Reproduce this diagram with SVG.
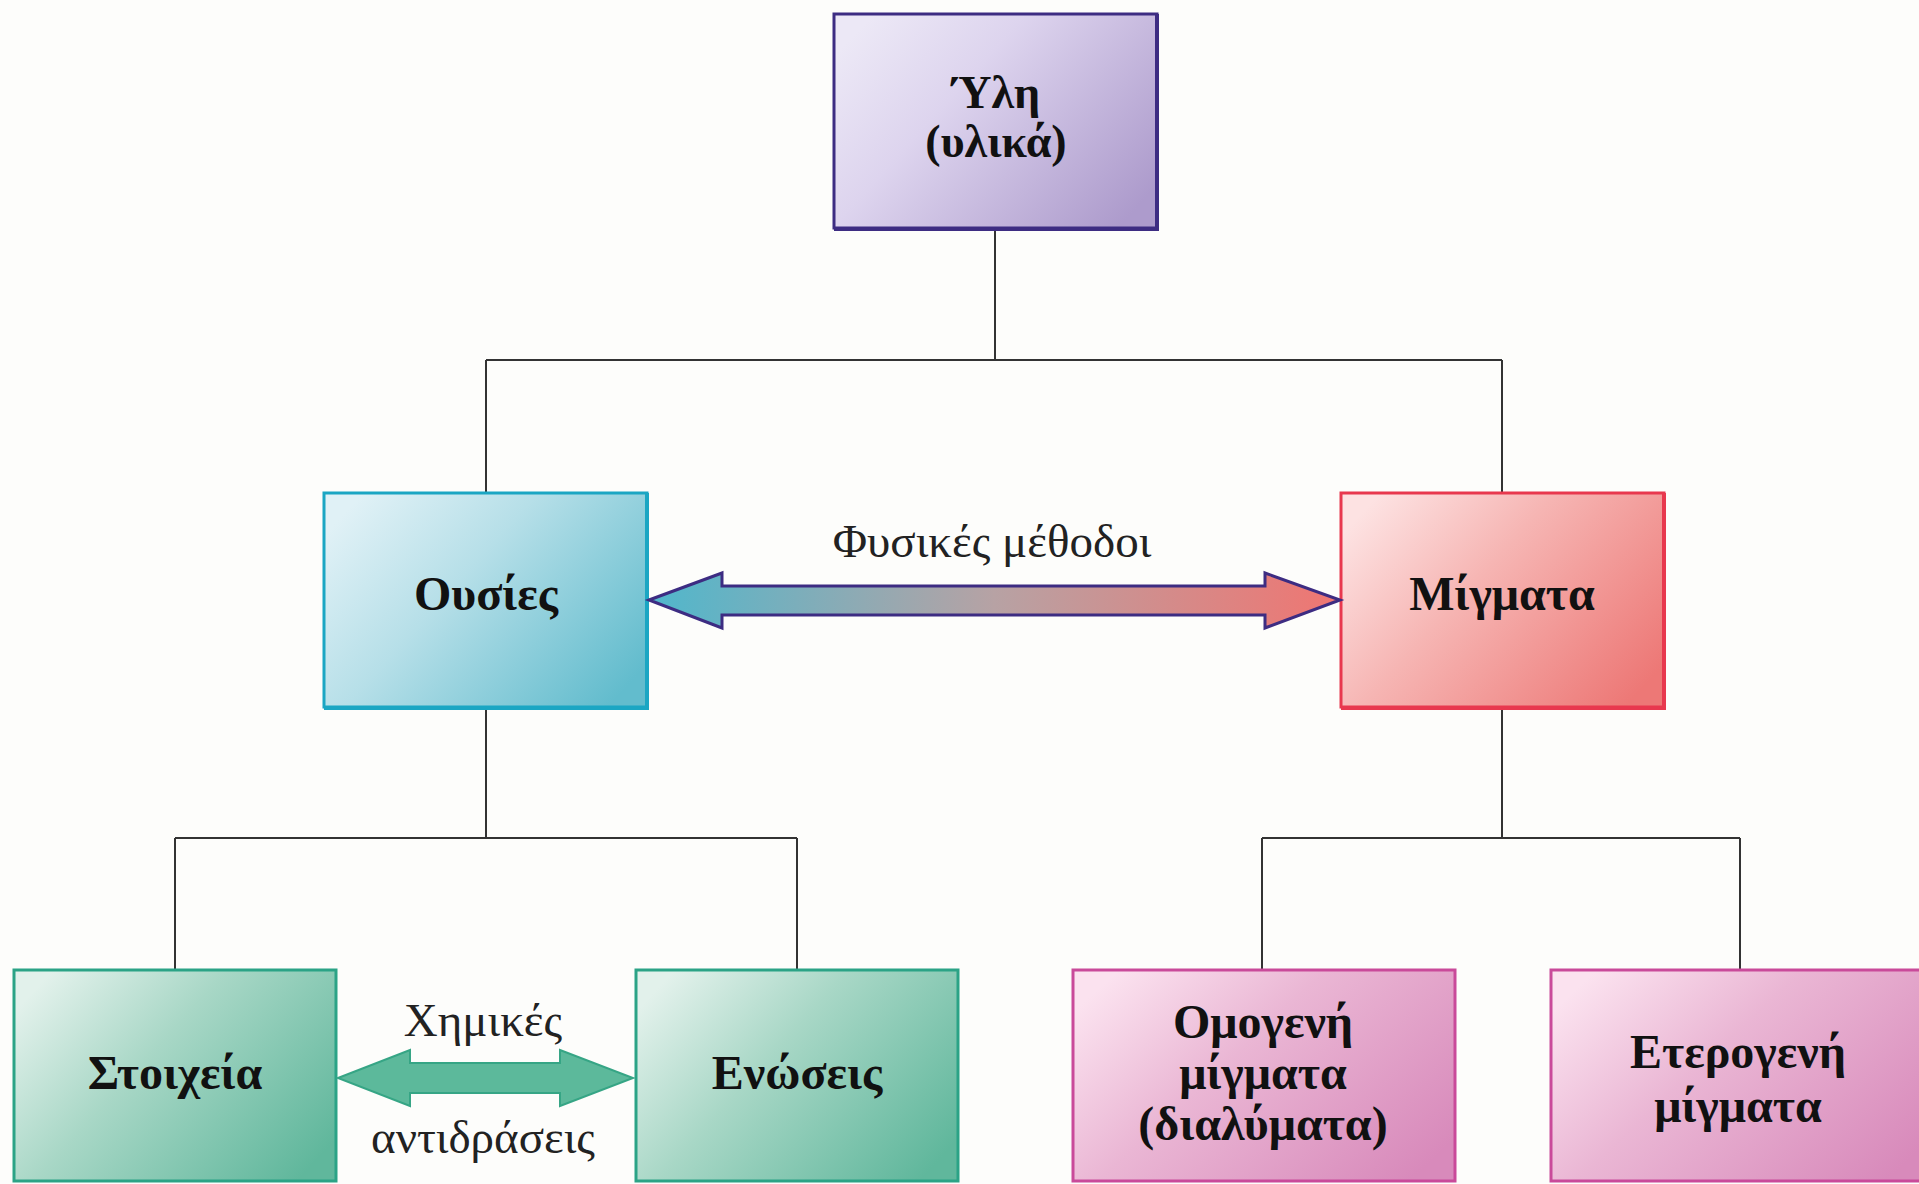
<svg xmlns="http://www.w3.org/2000/svg" width="1919" height="1184" viewBox="0 0 1919 1184">
<defs>
<linearGradient id="gPurple" x1="0" y1="0.2" x2="1" y2="0.8"><stop offset="0" stop-color="#ece8f6"/><stop offset="0.35" stop-color="#ddd4ee"/><stop offset="1" stop-color="#ad9bcc"/></linearGradient>
<linearGradient id="gCyan" x1="0" y1="0.2" x2="1" y2="0.8"><stop offset="0" stop-color="#e0f1f6"/><stop offset="0.4" stop-color="#b6dfe8"/><stop offset="1" stop-color="#62bccd"/></linearGradient>
<linearGradient id="gRed" x1="0" y1="0.2" x2="1" y2="0.8"><stop offset="0" stop-color="#fde2e2"/><stop offset="0.4" stop-color="#f6b5b3"/><stop offset="1" stop-color="#ed7876"/></linearGradient>
<linearGradient id="gGreen" x1="0" y1="0.2" x2="1" y2="0.8"><stop offset="0" stop-color="#e2f1eb"/><stop offset="0.4" stop-color="#a8d7c6"/><stop offset="1" stop-color="#60b79c"/></linearGradient>
<linearGradient id="gPink" x1="0" y1="0.2" x2="1" y2="0.8"><stop offset="0" stop-color="#fbe2ef"/><stop offset="0.4" stop-color="#eab6d4"/><stop offset="1" stop-color="#d88abb"/></linearGradient>
<linearGradient id="gArrow" x1="649" y1="0" x2="1340" y2="0" gradientUnits="userSpaceOnUse"><stop offset="0" stop-color="#4fb7cc"/><stop offset="0.5" stop-color="#b7a2a4"/><stop offset="1" stop-color="#f07571"/></linearGradient>
<style>
.box{stroke-width:3}
.lbl{font-family:"Liberation Serif","DejaVu Serif",serif;font-weight:bold;font-size:48px;fill:#111;text-anchor:middle}
.top{font-size:46px}
.note{font-family:"Liberation Serif","DejaVu Serif",serif;font-size:47px;fill:#222;text-anchor:middle}
.conn{fill:none;stroke:#333;stroke-width:2}
</style>
</defs>
<rect x="0" y="0" width="1919" height="1184" fill="#fdfdfb"/>
<g id="connectors">
<path class="conn" d="M995,230 V360 M486,360 H1502 M486,360 V492 M1502,360 V492"/>
<path class="conn" d="M486,708 V838 M175,838 H797 M175,838 V969 M797,838 V969"/>
<path class="conn" d="M1502,708 V838 M1262,838 H1740 M1262,838 V969 M1740,838 V969"/>
</g>
<g id="node-yli">
<rect class="box" x="834" y="14" width="323" height="214" fill="url(#gPurple)" stroke="#3d2c82"/>
<path d="M1157,14 V229 H834" fill="none" stroke="#3d2c82" stroke-width="4"/>
<text class="lbl top" x="996" y="108">Ύλη</text>
<text class="lbl top" x="996" y="157">(υλικά)</text>
</g>
<g id="node-ousies">
<rect class="box" x="324" y="493" width="323" height="214" fill="url(#gCyan)" stroke="#1ba6c3"/>
<path d="M647,493 V708 H324" fill="none" stroke="#1ba6c3" stroke-width="4"/>
<text class="lbl" x="486" y="610">Ουσίες</text>
</g>
<g id="node-migmata">
<rect class="box" x="1341" y="493" width="323" height="214" fill="url(#gRed)" stroke="#e8384e"/>
<path d="M1664,493 V708 H1341" fill="none" stroke="#e8384e" stroke-width="4"/>
<text class="lbl" x="1502" y="610">Μίγματα</text>
</g>
<g id="arrow-physical">
<polygon points="649,600 722,573 722,586 1265,586 1265,573 1340,600 1265,628 1265,615 722,615 722,628" fill="url(#gArrow)" stroke="#3d2c82" stroke-width="3" stroke-linejoin="miter"/>
<text class="note" x="992" y="557">Φυσικές μέθοδοι</text>
</g>
<g id="node-stoixeia">
<rect class="box" x="14" y="970" width="322" height="211" fill="url(#gGreen)" stroke="#2ba386"/>
<text class="lbl" x="175" y="1089">Στοιχεία</text>
</g>
<g id="node-enoseis">
<rect class="box" x="636" y="970" width="322" height="211" fill="url(#gGreen)" stroke="#2ba386"/>
<text class="lbl" x="797" y="1089">Ενώσεις</text>
</g>
<g id="arrow-chemical">
<polygon points="338,1078 410,1050 410,1063 560,1063 560,1050 633,1078 560,1106 560,1093 410,1093 410,1106" fill="#5cb99b" stroke="#36a585" stroke-width="2"/>
<text class="note" x="483" y="1036">Χημικές</text>
<text class="note" x="483" y="1153">αντιδράσεις</text>
</g>
<g id="node-omogeni">
<rect class="box" x="1073" y="970" width="382" height="211" fill="url(#gPink)" stroke="#c94a9a"/>
<text class="lbl" x="1263" y="1038">Ομογενή</text>
<text class="lbl" x="1263" y="1089">μίγματα</text>
<text class="lbl" x="1263" y="1140">(διαλύματα)</text>
</g>
<g id="node-eterogeni">
<rect class="box" x="1551" y="970" width="380" height="211" fill="url(#gPink)" stroke="#c94a9a"/>
<text class="lbl" x="1738" y="1068">Ετερογενή</text>
<text class="lbl" x="1738" y="1122">μίγματα</text>
</g>
</svg>
